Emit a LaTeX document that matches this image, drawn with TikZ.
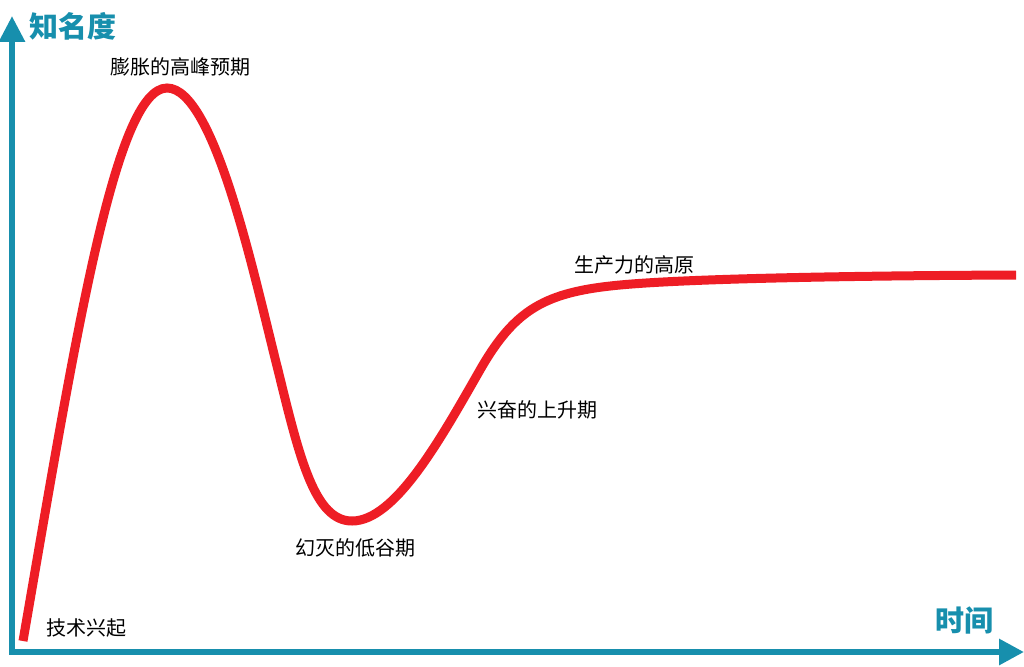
\documentclass[tikz,border=0pt]{standalone}
\usepackage{fontspec}
\newfontfamily\cjk{Noto Sans CJK SC}
\usetikzlibrary{arrows.meta}
\definecolor{axisteal}{HTML}{178FAD}
\definecolor{hypered}{HTML}{EE1D25}
\tikzset{
  axisline/.style={draw=axisteal, line width=6pt, line join=miter,
    {Triangle[length=26pt,width=25pt]}-{Triangle[length=25pt,width=25pt]}},
  hypecurve/.style={draw=hypered, line width=9pt, line cap=butt},
  axislabel/.style={anchor=base, inner sep=0pt, text=axisteal, font=\cjk\bfseries\fontsize{29}{29}\selectfont},
  phaselabel/.style={anchor=base, inner sep=0pt, text=black, font=\cjk\fontsize{20}{20}\selectfont}
}
\begin{document}
\begin{tikzpicture}[x=1pt,y=-1pt]
  \fill[white] (0,0) rectangle (1024,666);
  \useasboundingbox (0,0) rectangle (1024,666);
  % axes
  \coordinate (ytip) at (12,16);
  \coordinate (origin) at (12,652);
  \coordinate (xtip) at (1024,652);
  \draw[axisline] (ytip) -- (origin) -- (xtip);
  % hype curve
  \draw[hypecurve] (23,641) .. controls (75,340) and (115,88) .. (167,88)
    .. controls (215,88) and (255,280) .. (278,370)
    .. controls (300,460) and (315,521) .. (352,521)
    .. controls (395,521) and (440,440) .. (480,370)
    .. controls (515,309) and (545,292) .. (620,285)
    .. controls (700,277.5) and (900,275.5) .. (1016,275);
  % labels
  \node[axislabel] (yl) at (72.5,38) {知名度};
  \node[axislabel] (xl) at (964,631) {时间};
  \node[phaselabel] (peak) at (180,74.5) {膨胀的高峰预期};
  \node[phaselabel] (plateau) at (634,272.5) {生产力的高原};
  \node[phaselabel] (slope) at (537.5,417.5) {兴奋的上升期};
  \node[phaselabel] (trough) at (355.5,555.5) {幻灭的低谷期};
  \node[phaselabel] (trigger) at (86,635.5) {技术兴起};
\end{tikzpicture}
\end{document}
